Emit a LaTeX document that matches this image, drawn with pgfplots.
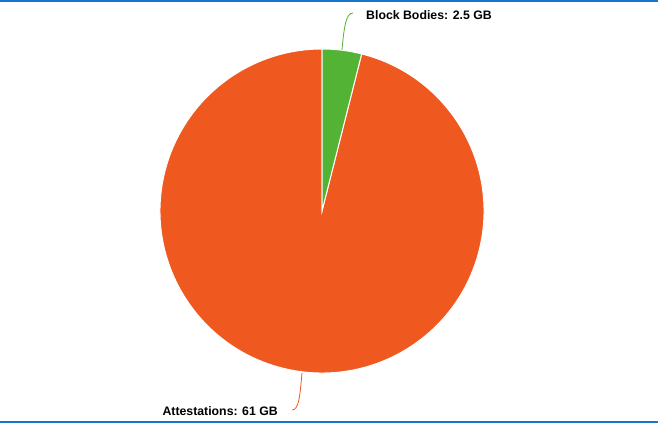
\documentclass[border=0pt]{standalone}
\usepackage{fontspec}
\setmainfont{Liberation Sans}
\usepackage{pgfplots}
\pgfplotsset{compat=1.18}
\usepackage{pgfplotstable}
\definecolor{cgreen}{HTML}{52B335}
\definecolor{corange}{HTML}{EF581E}
\definecolor{cblue}{HTML}{1874CD}
\pgfplotstableread{
label value
Block 2.5
Att 61
}\piedata
\begin{document}
\begin{tikzpicture}
\pgfplotstablegetelem{0}{value}\of\piedata \let\va\pgfplotsretval
\pgfplotstablegetelem{1}{value}\of\piedata \let\vb\pgfplotsretval
\pgfmathsetmacro\angA{360*\va/(\va+\vb)}
\pgfmathsetmacro\endA{90-\angA}
\begin{axis}[scale only axis, width=658pt, height=435pt,
  xmin=0, xmax=658, ymin=0, ymax=435, hide axis, clip=false]
\path (axis cs:0,0) rectangle (axis cs:658,435);
\fill[cblue] (axis cs:0,433) rectangle (axis cs:658,435);
\fill[cblue] (axis cs:0,11.5) rectangle (axis cs:658,14);
\filldraw[fill=corange, draw=white, line width=1pt] (axis cs:322,224) -- ++(\endA:162pt) arc[start angle=\endA, end angle=-270, radius=162pt] -- cycle;
\filldraw[fill=cgreen, draw=white, line width=1pt] (axis cs:322,224) -- ++(90:162pt) arc[start angle=90, end angle=\endA, radius=162pt] -- cycle;
\draw[cgreen, line width=0.8pt] (axis cs:342,385) .. controls (axis cs:344,408) and (axis cs:346,422) .. (axis cs:353,422);
\draw[corange, line width=0.8pt] (axis cs:302,62) .. controls (axis cs:300,40) and (axis cs:299,25) .. (axis cs:292,25);
\node[anchor=west, font=\bfseries\fontsize{12.3}{14}\selectfont, inner sep=0pt] at (axis cs:366,420) {Block Bodies: 2.5 GB};
\node[anchor=east, font=\bfseries\fontsize{12.3}{14}\selectfont, inner sep=0pt] at (axis cs:278,24) {Attestations: 61 GB};
\end{axis}
\end{tikzpicture}
\end{document}
